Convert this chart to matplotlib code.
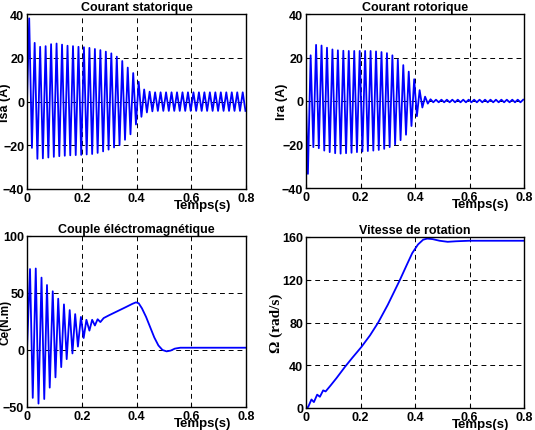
import numpy as np
import matplotlib.pyplot as plt

# extremums (une valeur par demi-periode, reseau 50 Hz)
isa_max = [38, 26.8, 25, 25.3, 26.2, 26.5, 26, 25.5, 25.3, 25,
           24.8, 24.5, 24, 23.5, 22.8, 22, 20.5, 18.5, 15.5, 13,
           9, 5.5, 4.5, 4.2, 4.2, 4.2, 4.2, 4.2, 4.2, 4.2,
           4.2, 4.2, 4.2, 4.2, 4.2, 4.2, 4.2, 4.2, 4.2, 4.2]
isa_min = [-21.2, -26.2, -26, -25.6, -25.3, -25, -24.8, -24.6, -24.5, -24.4,
           -24.2, -24, -23.5, -22.8, -22, -21, -20, -17.5, -15, -10.5,
           -7, -5, -4.5, -4.3, -4.3, -4.3, -4.3, -4.3, -4.3, -4.3,
           -4.3, -4.3, -4.3, -4.3, -4.3, -4.3, -4.3, -4.3, -4.3, -4.3]

ira_min = [-33.5, -21.2, -21.7, -22.8, -23.5, -24, -24.2, -24, -23.8, -23.5,
           -23.2, -23, -22.8, -22.5, -22, -21.2, -20, -18, -15.5, -11.5,
           -7, -3, -1.2, -0.6, -0.6, -0.6, -0.6, -0.6, -0.6, -0.6,
           -0.6, -0.6, -0.6, -0.6, -0.6, -0.6, -0.6, -0.6, -0.6, -0.6]
ira_max = [21, 25.8, 25.5, 24.5, 23.7, 23.3, 23.1, 23, 23, 23,
           23, 23, 22.8, 22.5, 22, 21, 19, 16.5, 13.5, 10,
           5, 2, 0.8, 0.6, 0.6, 0.6, 0.6, 0.6, 0.6, 0.6,
           0.6, 0.6, 0.6, 0.6, 0.6, 0.6, 0.6, 0.6, 0.6, 0.6]

ce_t = [0, 0.011, 0.021, 0.032, 0.042, 0.053, 0.063, 0.073, 0.083, 0.094,
        0.104, 0.114, 0.125, 0.135, 0.145, 0.156, 0.166, 0.176, 0.186, 0.197,
        0.207, 0.217, 0.228, 0.238, 0.248, 0.258, 0.268, 0.28, 0.3, 0.33,
        0.36, 0.385, 0.398, 0.408, 0.42, 0.435, 0.45, 0.465, 0.48, 0.495,
        0.51, 0.525, 0.54, 0.56, 0.6, 0.8]
ce_val = [0, 71, -42, 71.5, -47, 63.5, -43, 57, -33, 51.5,
          -24, 45, -15, 40, -8, 35, -3, 31.5, 3, 29,
          10.5, 26.5, 17, 26.5, 21.5, 27, 24.5, 28, 30.5, 34,
          37.5, 40.5, 41.8, 41, 36.5, 29, 20, 11, 4, 0,
          -1.2, -0.5, 1.2, 2, 2, 2]

vit_t = [0, 0.008, 0.02, 0.029, 0.041, 0.051, 0.063, 0.072, 0.09, 0.112,
         0.143, 0.17, 0.203, 0.235, 0.265, 0.3, 0.344, 0.37, 0.39, 0.411,
         0.43, 0.445, 0.465, 0.49, 0.52, 0.55, 0.6, 0.8]
vit_val = [0, 1, 8, 5.5, 12.5, 10.5, 16.5, 15.5, 21, 28,
           38.5, 47, 57, 68, 80, 96.5, 119.5, 134, 145, 153,
           157.5, 158.5, 158, 156.5, 155.5, 156, 156.5, 156.5]


def zigzag(first, second, t0):
    vals = [0.0]
    for a, b in zip(first, second):
        vals += [a, b]
    t = np.concatenate([[0.0], t0 + 0.01 * np.arange(len(vals) - 1)])
    return t, vals


plt.rcParams['font.family'] = 'Liberation Sans'
plt.rcParams['font.weight'] = 'bold'

fig = plt.figure(figsize=(5.35, 4.31), dpi=100)
W, H = 535.0, 431.0


def make_ax(l, t, r, b):
    return fig.add_axes([l / W, 1 - b / H, (r - l) / W, (b - t) / H])


def style(ax, title, yticks, ylim):
    ax.set_xlim(0, 0.8)
    ax.set_ylim(*ylim)
    ax.set_xticks([0, 0.2, 0.4, 0.6, 0.8])
    ax.set_xticklabels(['0', '0.2', '0.4', '0.6', '0.8'])
    ax.set_yticks(yticks)
    ax.tick_params(direction='in', length=3, labelsize=9, pad=2)
    for lab in ax.get_xticklabels() + ax.get_yticklabels():
        lab.set_fontweight('bold')
    ax.grid(True, color='black', linestyle=(0, (5, 4)), linewidth=0.7)
    for s in ax.spines.values():
        s.set_linewidth(1.0)
    ax.set_title(title, fontsize=9, fontweight='bold', pad=3)
    ax.text(0.8, -0.06, 'Temps(s)', transform=ax.transAxes, ha='center',
            va='top', fontsize=9.5, fontweight='bold')


ax1 = make_ax(27, 15, 246, 190)
t, v = zigzag(isa_max, isa_min, 0.008)
ax1.plot(t, v, color='#0000ff', linewidth=1.3)
style(ax1, 'Courant statorique', [-40, -20, 0, 20, 40], (-40, 40))
ax1.set_ylabel('Isa (A)', fontsize=9, fontweight='bold')
ax1.yaxis.set_label_coords(-0.075, 0.5)

ax2 = make_ax(306, 15, 524, 189)
t, v = zigzag(ira_min, ira_max, 0.007)
ax2.plot(t, v, color='#0000ff', linewidth=1.3)
style(ax2, 'Courant rotorique', [-40, -20, 0, 20, 40], (-40, 40))
ax2.set_ylabel('Ira (A)', fontsize=9, fontweight='bold')
ax2.yaxis.set_label_coords(-0.083, 0.5)

ax3 = make_ax(27, 237, 246, 408)
ax3.plot(ce_t, ce_val, color='#0000ff', linewidth=1.3)
style(ax3, 'Couple éléctromagnétique', [-50, 0, 50, 100], (-50, 100))
ax3.set_ylabel('Ce(N.m)', fontsize=8.5, fontweight='bold')
ax3.yaxis.set_label_coords(-0.072, 0.5)

ax4 = make_ax(306, 238, 524, 409)
ax4.plot(vit_t, vit_val, color='#0000ff', linewidth=1.3)
style(ax4, 'Vitesse de rotation', [0, 40, 80, 120, 160], (0, 160))
ax4.set_ylabel('Ω (rad/s)', fontsize=11, fontweight='bold', family='Liberation Serif')
ax4.yaxis.set_label_coords(-0.105, 0.5)

fig.savefig('out.png', dpi=100)
